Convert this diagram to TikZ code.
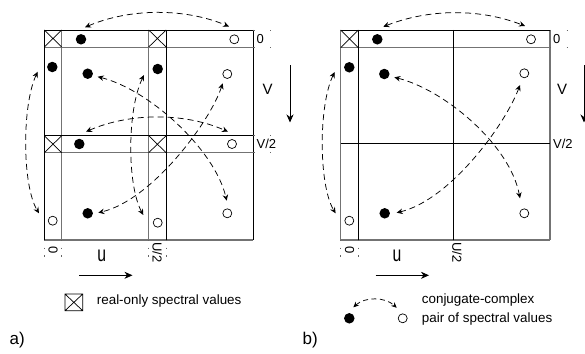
\documentclass[tikz,border=0pt]{standalone}
\usepackage{fontspec}
\setmainfont{Liberation Sans}
\usetikzlibrary{arrows.meta}
\begin{document}
\begin{tikzpicture}[x=1pt,y=-1pt,
  fdot/.style={circle,fill=black,inner sep=0pt,minimum size=10.5pt},
  odot/.style={circle,draw=black,line width=0.7pt,fill=white,inner sep=0pt,minimum size=9pt},
  pair/.style={dash pattern=on 6pt off 4pt,line width=0.75pt,
    {Stealth[length=6pt,width=5.5pt,inset=2pt]}-{Stealth[length=6pt,width=5.5pt,inset=2pt]}},
  pairleg/.style={dash pattern=on 5pt off 3.5pt,line width=0.75pt,
    {Stealth[length=5.5pt,width=5pt,inset=1.8pt]}-{Stealth[length=5.5pt,width=5pt,inset=1.8pt]}},
  blk/.style={line width=0.9pt,black},
  gry/.style={line width=1.1pt,black!55},
  xb/.style={line width=0.7pt,black},
  exth/.style={line width=0.9pt,black!60,dash pattern=on 1.2pt off 15.5pt},
  extv/.style={line width=0.9pt,black!60,dash pattern=on 1.2pt off 6.5pt},
  axarr/.style={line width=0.8pt,-{Stealth[length=8pt,width=7pt,inset=2.5pt]}},
  lbl/.style={font=\fontsize{13}{15}\selectfont,inner sep=0pt},
  big/.style={font=\fontsize{15}{18}\selectfont,inner sep=0pt},
  txt/.style={font=\fontsize{13.4}{16}\selectfont,inner sep=0pt,anchor=west},
  tag/.style={font=\fontsize{17}{20}\selectfont,inner sep=0pt}]
\useasboundingbox (0,0) rectangle (585,353);

% ================= panel a =================
\draw[gry] (44.3,47.7) -- (253.3,47.7);
\draw[gry] (44.3,152.7) -- (253.3,152.7);
\draw[gry] (44.3,240) -- (253.3,240);
\draw[gry] (61.7,30) -- (61.7,240);
\draw[gry] (148.7,30) -- (148.7,240);
\draw[blk] (44.3,30) -- (253.3,30);
\draw[blk] (44.3,135.7) -- (253.3,135.7);
\draw[blk] (44.3,30) -- (44.3,240);
\draw[blk] (166,30) -- (166,240);
\draw[blk] (253.3,30) -- (253.3,240);
\foreach \cx/\cy in {44.3/30,148.7/30,44.3/135.7,148.7/135.7}{
  \draw[xb] (\cx,\cy) -- ++(17.4,17) (\cx+17.4,\cy) -- ++(-17.4,17);
}
\draw[exth] (253.3,30) -- (273,30);
\draw[exth] (253.3,47.7) -- (273,47.7);
\draw[exth] (253.3,135.7) -- (273,135.7);
\draw[exth] (253.3,152.7) -- (273,152.7);
\foreach \vx in {44.3,61.7,148.7,166}{ \draw[extv] (\vx,240) -- (\vx,262); }
\node[lbl,anchor=west] (a0) at (256.5,38.8) {0};
\node[lbl,anchor=west] (av2) at (256.5,143.8) {V/2};
\node[big] (aV) at (267.5,89) {V};
\coordinate (aVs) at (290,65); \coordinate (aVe) at (290,122.5);
\draw[axarr] (aVs) -- (aVe);
\node[lbl,rotate=-90] (au0) at (53,250.5) {0};
\node[lbl,rotate=-90] (auu) at (157.3,252.5) {U/2};
\node[big] (au) at (101.7,256) {\scalebox{1.05}[1.45]{u}};
\coordinate (aus) at (79,275.3); \coordinate (aue) at (132.5,275.3);
\draw[axarr] (aus) -- (aue);
\node[fdot] (a1) at (81,39.3) {};
\node[odot] (a2) at (234.3,39.3) {};
\node[fdot] (a3) at (52.3,67) {};
\node[fdot] (a4) at (87.7,73.7) {};
\node[fdot] (a5) at (157.7,69) {};
\node[odot] (a6) at (227.3,74) {};
\node[fdot] (a7) at (79.3,144) {};
\node[odot] (a8) at (232,144) {};
\node[odot] (a9) at (52.7,220.7) {};
\node[fdot] (a10) at (87.7,213.3) {};
\node[odot] (a11) at (157.7,222.7) {};
\node[odot] (a12) at (227.3,213.3) {};
\draw[pair] ([shift={(4,-12)}]a1.center) .. controls (130,8) and (185,8) .. ([shift={(-5.3,-12.8)}]a2.center);
\draw[pair] ([shift={(6.7,-12.3)}]a7.center) .. controls (130,112.5) and (185,112.5) .. ([shift={(-4,-12.3)}]a8.center);
\draw[pair] ([shift={(-14.6,4.7)}]a3.center) .. controls (22,105) and (22,185) .. ([shift={(-13.7,-7.4)}]a9.center);
\draw[pair] ([shift={(-13.7,6)}]a5.center) .. controls (127,110) and (127,185) .. ([shift={(-14.4,-7.7)}]a11.center);
\draw[pair] ([shift={(10,3)}]a4.center) .. controls (150,90) and (215,150) .. ([shift={(-0.6,-12.6)}]a12.center);
\draw[pair] ([shift={(-4.6,9.3)}]a6.center) .. controls (210,122) and (152,200) .. ([shift={(10.6,-0.6)}]a10.center);
\draw[xb] (65,294) rectangle (82.7,310.7) (65,294) -- (82.7,310.7) (82.7,294) -- (65,310.7);
\node[txt] (alegt) at (96.7,301.5) {real-only spectral values};
\node[tag,anchor=west] (atag) at (9.5,340) {a)};

% ================= panel b =================
\draw[gry] (340.7,47.7) -- (550,47.7);
\draw[gry] (340.7,240) -- (550,240);
\draw[gry] (340.7,30) -- (340.7,240);
\draw[gry] (550,30) -- (550,240);
\draw[blk] (340.7,30) -- (550,30);
\draw[blk] (340.7,143.3) -- (550,143.3);
\draw[blk] (358.3,30) -- (358.3,240);
\draw[blk] (453.3,30) -- (453.3,240);
\draw[xb] (340.7,30) -- (358.3,47.7) (358.3,30) -- (340.7,47.7);
\draw[exth] (550,30) -- (569,30);
\draw[exth] (550,47.7) -- (569,47.7);
\foreach \vx in {340.7,358.3,453.3}{ \draw[extv] (\vx,240) -- (\vx,262); }
\node[lbl,anchor=west] (b0) at (553,38.8) {0};
\node[lbl,anchor=west] (bv2) at (553,143.8) {V/2};
\node[big] (bV) at (562,89) {V};
\coordinate (bVs) at (584,65); \coordinate (bVe) at (584,122.5);
\draw[axarr] (bVs) -- (bVe);
\node[lbl,rotate=-90] (bu0) at (349.5,250.5) {0};
\node[lbl,rotate=-90] (buu) at (457,252.5) {U/2};
\node[big] (bu) at (397,256) {\scalebox{1.05}[1.45]{u}};
\coordinate (bus) at (375.7,275.3); \coordinate (bue) at (429,275.3);
\draw[axarr] (bus) -- (bue);
\node[fdot] (b1) at (377.3,39.3) {};
\node[odot] (b2) at (531,39.3) {};
\node[fdot] (b3) at (349.3,67.3) {};
\node[fdot] (b4) at (384.3,74) {};
\node[odot] (b6) at (524.3,73.3) {};
\node[odot] (b9) at (349.3,220.7) {};
\node[fdot] (b10) at (384.7,213.3) {};
\node[odot] (b12) at (524.3,213.3) {};
\draw[pair] ([shift={(6,-12.6)}]b1.center) .. controls (430,8.5) and (480,8.5) .. ([shift={(-6,-13.3)}]b2.center);
\draw[pair] ([shift={(-14.6,4.7)}]b3.center) .. controls (318.5,105) and (318.5,185) .. ([shift={(-13.7,-7.4)}]b9.center);
\draw[pair] ([shift={(10,3.3)}]b4.center) .. controls (445,90) and (510,145) .. ([shift={(-4.3,-15)}]b12.center);
\draw[pair] ([shift={(-4.3,11.7)}]b6.center) .. controls (505,125) and (450,200) .. ([shift={(12,-0.6)}]b10.center);
\node[fdot] (lf) at (349.3,318.3) {};
\node[odot] (lo) at (402.7,318.3) {};
\draw[pairleg] ([shift={(4,-11)}]lf.center) .. controls (365,296.7) and (385,296.7) .. ([shift={(-6,-10.5)}]lo.center);
\node[txt] (blegt1) at (421.7,300.5) {conjugate-complex};
\node[txt] (blegt2) at (421.7,318.8) {pair of spectral values};
\node[tag,anchor=west] (btag) at (302.5,340) {b)};
\end{tikzpicture}
\end{document}
